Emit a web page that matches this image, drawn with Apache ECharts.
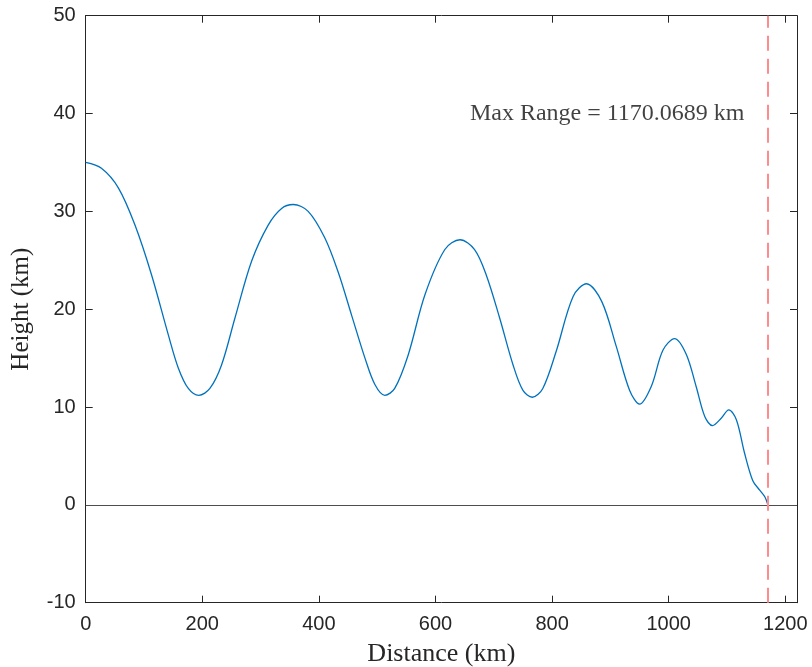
<!DOCTYPE html>
<html>
<head>
<meta charset="utf-8">
<title>Trajectory</title>
<script src="https://cdn.jsdelivr.net/npm/echarts@6/dist/echarts.min.js"></script>
<style>
  html, body { margin: 0; padding: 0; background: #fff; }
  #chart { width: 812px; height: 667px; }
</style>
</head>
<body>
<div id="chart"></div>
<script>
// flight path (km)
const distance = [0, 27, 56, 84.5, 113, 141.6, 158.8, 176, 194, 213, 233, 256, 284.5, 313, 336, 356, 381.6, 410,
  433, 456, 479, 496, 513, 530, 553, 582, 616, 642, 667, 687, 710, 733, 750, 766, 784, 807, 836, 859,
  885, 910, 933, 950, 970, 990, 1010, 1030, 1047, 1062, 1075, 1090, 1103, 1116, 1130, 1144, 1156, 1165, 1170.0689]
const height = [35.0, 34.4, 32.4, 28.6, 23.5, 17.4, 14.0, 11.9, 11.2, 11.9, 14.3, 19.1, 24.9, 28.6, 30.3, 30.7, 30.0, 27.3,
  23.8, 19.4, 15.0, 12.3, 11.2, 11.9, 15.3, 21.5, 26.1, 27.1, 26.1, 23.5, 19.1, 14.3, 11.7, 11.0, 11.9, 15.7, 21.3, 22.6,
  20.8, 16.2, 11.7, 10.3, 12.1, 15.8, 17.0, 15.4, 12.1, 9.0, 8.1, 8.85, 9.7, 8.7, 5.3, 2.5, 1.5, 0.8, 0.0]
const maxRange = 1170.0689
const xTicks = [0, 200, 400, 600, 800, 1000, 1200]
const labelPos = [659, 40] // where the max range text sits

const axisColor = '#262626'
const tickFont = { fontFamily: 'Liberation Sans', fontSize: 20, color: axisColor }
const serif = 'Liberation Serif'

const xMin = 0
const xMax = 1220
const yMin = -10
const yMax = 50

function boxAxis(extra) {
  return Object.assign({
    type: 'value',
    splitLine: { show: false },
    axisLine: { show: true, onZero: false, lineStyle: { color: axisColor, width: 1 } },
    axisTick: { show: true, inside: true, length: 7, lineStyle: { color: axisColor } }
  }, extra)
}

const chart = echarts.init(document.getElementById('chart'), null, { renderer: 'canvas' })

chart.setOption({
  animation: false,
  backgroundColor: '#fff',
  // v6 would otherwise shrink the grid to fit the axis names
  grid: { left: 85.7, right: 15, top: 15.7, bottom: 64.3, containLabel: false, outerBoundsMode: 'none' },
  xAxis: [
    boxAxis({
      min: xMin, max: xMax, position: 'bottom',
      axisTick: { show: true, inside: true, length: 7, customValues: xTicks, lineStyle: { color: axisColor } },
      axisLabel: Object.assign({ margin: 12, customValues: xTicks, formatter: v => String(v) }, tickFont),
      name: 'Distance (km)', nameLocation: 'middle', nameGap: 38,
      nameTextStyle: { fontFamily: serif, fontSize: 26, color: axisColor }
    }),
    boxAxis({
      min: xMin, max: xMax, position: 'top',
      axisTick: { show: true, inside: true, length: 7, customValues: xTicks, lineStyle: { color: axisColor } },
      axisLabel: { show: false }
    })
  ],
  yAxis: [
    boxAxis({
      min: yMin, max: yMax, interval: 10, position: 'left',
      axisLabel: Object.assign({ margin: 10 }, tickFont),
      name: 'Height (km)', nameLocation: 'middle', nameGap: 52,
      nameTextStyle: { fontFamily: serif, fontSize: 25, color: axisColor }
    }),
    boxAxis({
      min: yMin, max: yMax, interval: 10, position: 'right',
      axisLabel: { show: false }
    })
  ],
  series: [
    {
      name: 'trajectory',
      type: 'line',
      data: distance.map((d, i) => [d, height[i]]),
      smooth: 0.33, // close to catmull-rom
      showSymbol: false,
      lineStyle: { color: '#0072BD', width: 1.3 },
      z: 3,
      markLine: {
        silent: true,
        symbol: ['none', 'none'],
        label: { show: false },
        data: [
          { yAxis: 0, lineStyle: { color: '#4d4d4d', width: 1.2, type: 'solid' } },
          { xAxis: maxRange, lineStyle: { color: '#ff8c8c', width: 2, type: [15, 8] } }
        ]
      }
    },
    {
      name: 'note',
      type: 'scatter',
      data: [labelPos],
      symbolSize: 0,
      silent: true,
      label: {
        show: true,
        position: 'right',
        distance: 0,
        formatter: 'Max Range = ' + maxRange.toFixed(4) + ' km',
        fontFamily: serif,
        fontSize: 24,
        color: '#111'
      }
    }
  ]
})
</script>
</body>
</html>
